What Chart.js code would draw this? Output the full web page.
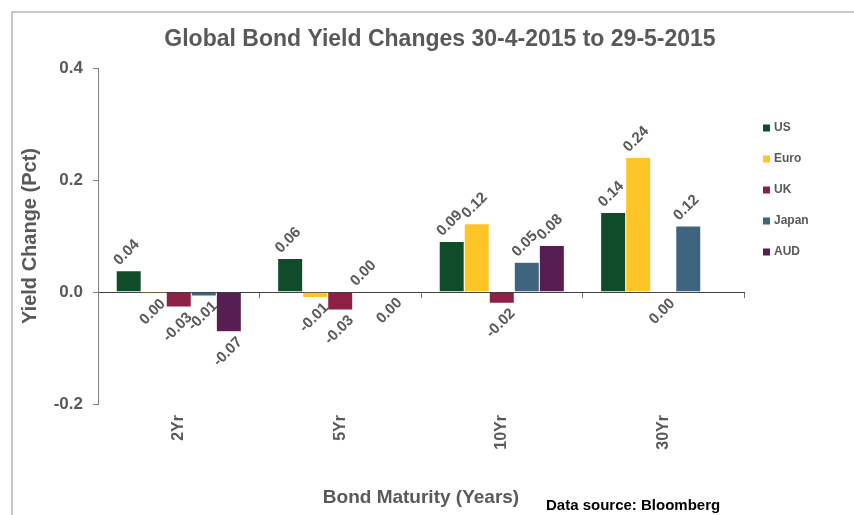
<!DOCTYPE html>
<html>
<head>
<meta charset="utf-8">
<title>Global Bond Yield Changes</title>
<script src="https://cdn.jsdelivr.net/npm/chart.js@4"></script>
<style>
    html, body { margin: 0; padding: 0; background: #fff; }
    #wrap { position: relative; width: 854px; height: 515px; }
</style>
</head>
<body>
<div id="wrap"><canvas id="bondChart" width="854" height="515"></canvas></div>
<script>
// Values (yield change in pct points)
const maturities = ['2Yr', '5Yr', '10Yr', '30Yr'];
const usChange = [0.038, 0.060, 0.090, 0.142];
const euroChange = [-0.003, -0.010, 0.122, 0.240];
const ukChange = [-0.027, -0.032, -0.020, -0.002];
const japanChange = [-0.007, 0.001, 0.053, 0.118];
const audChange = [-0.071, -0.001, 0.083, null];
const yTicks = [-0.2, 0.0, 0.2, 0.4];

const seriesNames = ['US', 'Euro', 'UK', 'Japan', 'AUD'];
const seriesColors = ['#104c2a', '#fdc526', '#8e1f45', '#3f647f', '#561e53'];
const seriesValues = [usChange, euroChange, ukChange, japanChange, audChange];

const textGrey = '#595959';
const fontFamily = '"Liberation Sans", Arial, sans-serif';

Chart.defaults.font.family = fontFamily;
Chart.defaults.color = textGrey;

function formatChange(v) {
    const r = Math.round(v * 100) / 100;
    return (Math.abs(r) < 0.005 ? 0 : r).toFixed(2);
}

// Frame, title, legend, source note and rotated value labels
const decorPlugin = {
    id: 'decor',
    beforeDraw(chart) {
        const ctx = chart.ctx;
        ctx.save();
        ctx.strokeStyle = '#c8c8c8';
        ctx.lineWidth = 2;
        ctx.beginPath();
        ctx.moveTo(12, 515);
        ctx.lineTo(12, 12);
        ctx.lineTo(854, 12);
        ctx.stroke();
        ctx.restore();
    },
    afterDatasetsDraw(chart) {
        const ctx = chart.ctx;
        ctx.save();
        ctx.font = 'bold 15px ' + fontFamily;
        ctx.fillStyle = textGrey;
        ctx.textAlign = 'center';
        ctx.textBaseline = 'middle';
        chart.data.datasets.forEach((ds, i) => {
            const meta = chart.getDatasetMeta(i);
            meta.data.forEach((bar, j) => {
                const v = ds.data[j];
                if (v === null || v === undefined) return;
                const text = formatChange(v);
                const w = ctx.measureText(text).width;
                const off = (w + 14) * 0.707 / 2 + 2;
                const cx = v >= 0 ? bar.x - 2 : bar.x - 1;
                const cy = v >= 0 ? bar.y - off - 1 : bar.y + off + 1;
                ctx.save();
                ctx.translate(cx, cy);
                ctx.rotate(-Math.PI / 4);
                ctx.fillText(text, 0, 0);
                ctx.restore();
            });
        });
        ctx.restore();
    },
    afterDraw(chart) {
        const ctx = chart.ctx;
        ctx.save();
        // title
        ctx.font = 'bold 23px ' + fontFamily;
        ctx.fillStyle = textGrey;
        ctx.textAlign = 'center';
        ctx.textBaseline = 'middle';
        ctx.fillText('Global Bond Yield Changes 30-4-2015 to 29-5-2015', 440, 40);

        // legend
        ctx.font = 'bold 12px ' + fontFamily;
        ctx.textAlign = 'left';
        seriesNames.forEach((name, i) => {
            const y = 128 + i * 31;
            ctx.fillStyle = seriesColors[i];
            ctx.fillRect(763, y - 3.5, 7, 7);
            ctx.fillStyle = textGrey;
            ctx.fillText(name, 774, y);
        });

        // source note
        ctx.font = 'bold 15px ' + fontFamily;
        ctx.fillStyle = '#000';
        ctx.fillText('Data source: Bloomberg', 546, 506);
        ctx.restore();
    }
};

const chart = new Chart(document.getElementById('bondChart'), {
    type: 'bar',
    data: {
        labels: maturities,
        datasets: seriesNames.map((name, i) => ({
            label: name,
            data: seriesValues[i],
            backgroundColor: seriesColors[i],
            borderColor: 'rgba(255,255,255,0.7)',
            borderWidth: 0.5,
            barPercentage: 1,
            categoryPercentage: 0.775
        }))
    },
    options: {
        responsive: false,
        animation: false,
        devicePixelRatio: 1,
        layout: {
            padding: { left: 14, right: 110, top: 68, bottom: 0 }
        },
        plugins: {
            legend: { display: false },
            title: { display: false },
            tooltip: { enabled: false }
        },
        scales: {
            x: {
                type: 'category',
                position: 'bottom',
                offset: true,
                grid: { display: false, drawTicks: false },
                border: { display: false },
                ticks: {
                    maxRotation: 90,
                    minRotation: 90,
                    padding: 11,
                    color: textGrey,
                    font: { size: 16, weight: 'bold' }
                },
                title: {
                    display: true,
                    text: 'Bond Maturity (Years)',
                    color: textGrey,
                    font: { size: 19, weight: 'bold' },
                    padding: { top: 4, bottom: 6 }
                },
                afterFit(scale) { scale.height = 111; }
            },
            // zero line with tick marks at the category boundaries
            x2: {
                type: 'category',
                position: { y: 0 },
                offset: true,
                grid: {
                    display: true,
                    drawOnChartArea: false,
                    drawTicks: true,
                    tickLength: 5,
                    color: '#707070',
                    offset: true
                },
                border: { display: true, color: '#404040', width: 1 },
                ticks: { display: false }
            },
            y: {
                min: -0.2,
                max: 0.4,
                afterBuildTicks(scale) {
                    scale.ticks = yTicks.map(v => ({ value: v }));
                },
                grid: {
                    drawOnChartArea: false,
                    tickLength: 5,
                    color: '#808080'
                },
                border: { display: true, color: '#808080', width: 1 },
                ticks: {
                    padding: 10,
                    color: textGrey,
                    font: { size: 17, weight: 'bold' },
                    callback: v => v.toFixed(1)
                },
                title: {
                    display: true,
                    text: 'Yield Change (Pct)',
                    color: textGrey,
                    font: { size: 20, weight: 'bold' },
                    padding: { top: 4, bottom: 4 }
                },
                afterFit(scale) { scale.width = 84; }
            }
        }
    },
    plugins: [decorPlugin]
});
</script>
</body>
</html>
